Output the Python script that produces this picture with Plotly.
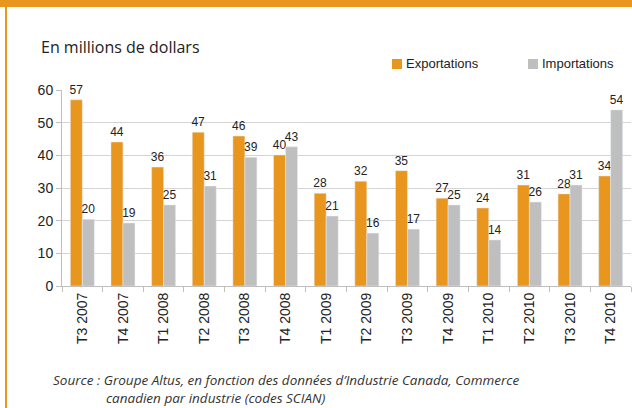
import plotly.graph_objects as go

trimestres = ["T3 2007", "T4 2007", "T1 2008", "T2 2008", "T3 2008", "T4 2008", "T1 2009",
              "T2 2009", "T3 2009", "T4 2009", "T1 2010", "T2 2010", "T3 2010", "T4 2010"]
exportations = [57.0, 44.1, 36.4, 47.1, 45.9, 40.1, 28.4, 32.1, 35.3, 26.9, 23.9, 30.9, 28.2, 33.7]
importations = [20.4, 19.3, 24.8, 30.6, 39.4, 42.6, 21.4, 16.2, 17.4, 24.8, 14.1, 25.7, 30.9, 53.9]

ORANGE = "#E9961F"
GRIS = "#BFBFBF"

# marges en pixels -> zone de tracé 62..631 x 90..286
L, R, T, B = 62, 1, 90, 122
W, H = 632, 408
PW, PH = W - L - R, H - T - B


def px_x(x):
    return (x - L) / PW


def px_y(y):
    return (H - B - y) / PH


fig = go.Figure()
fig.add_bar(name="Exportations", x=trimestres, y=exportations, marker_color=ORANGE,
            texttemplate="%{y:.0f}", textposition="outside", constraintext="none",
            textfont=dict(size=12, color="#222"), cliponaxis=False)
fig.add_bar(name="Importations", x=trimestres, y=importations, marker_color=GRIS,
            texttemplate="%{y:.0f}", textposition="outside", constraintext="none",
            textfont=dict(size=12, color="#222"), cliponaxis=False)

fig.update_layout(
    width=W, height=H,
    margin=dict(l=L, r=R, t=T, b=B, autoexpand=False),
    paper_bgcolor="white", plot_bgcolor="white",
    barmode="group", bargap=0.41, bargroupgap=0,
    font=dict(family="Liberation Sans, Arial, sans-serif", color="#222"),
    showlegend=False,
)
fig.update_yaxes(range=[0, 60], dtick=10, showgrid=True, gridcolor="#D4D4D4", gridwidth=1,
                 showline=True, linecolor="#BFBFBF", ticks="outside", ticklen=5,
                 tickcolor="#BFBFBF", tickfont=dict(size=14, color="#222"), zeroline=False)
fig.update_xaxes(showline=True, linecolor="#BFBFBF", ticks="outside", ticklen=5,
                 tickcolor="#BFBFBF", tickson="boundaries", tickangle=-90,
                 tickfont=dict(size=14, color="#222"), automargin=False)

# cadre orange
fig.add_shape(type="rect", xref="paper", yref="paper", x0=px_x(0), x1=px_x(W), y0=px_y(7), y1=px_y(0),
              fillcolor=ORANGE, line_width=0, layer="above")
fig.add_shape(type="rect", xref="paper", yref="paper", x0=px_x(5), x1=px_x(7), y0=px_y(H), y1=px_y(0),
              fillcolor=ORANGE, line_width=0, layer="above")

# légende
for nom, couleur, x0 in [("Exportations", ORANGE, 392), ("Importations", GRIS, 528)]:
    fig.add_shape(type="rect", xref="paper", yref="paper", x0=px_x(x0), x1=px_x(x0 + 10),
                  y0=px_y(69), y1=px_y(59), fillcolor=couleur, line_width=0)
    fig.add_annotation(text=nom, xref="paper", yref="paper", x=px_x(x0 + 12), y=px_y(64),
                       xanchor="left", yanchor="middle", showarrow=False,
                       font=dict(size=13, color="#222"))

fig.add_annotation(text="En millions de dollars", xref="paper", yref="paper", x=px_x(39), y=px_y(47),
                   xanchor="left", yanchor="middle", showarrow=False,
                   font=dict(family="Open Sans, sans-serif", size=16, color="#222"))
fig.add_annotation(text="<i>Source : Groupe Altus, en fonction des données d’Industrie Canada, Commerce</i>",
                   xref="paper", yref="paper", x=px_x(51), y=px_y(380), xanchor="left", yanchor="middle",
                   showarrow=False, font=dict(family="Open Sans, sans-serif", size=13.5, color="#333"))
fig.add_annotation(text="<i>canadien par industrie (codes SCIAN)</i>",
                   xref="paper", yref="paper", x=px_x(104), y=px_y(398), xanchor="left", yanchor="middle",
                   showarrow=False, font=dict(family="Open Sans, sans-serif", size=13.5, color="#333"))

# la page garde la marge de 8 px du navigateur : on la retire
fig.write_html("out.html", config={"displayModeBar": False},
               post_script="document.body.style.margin = '0';")
